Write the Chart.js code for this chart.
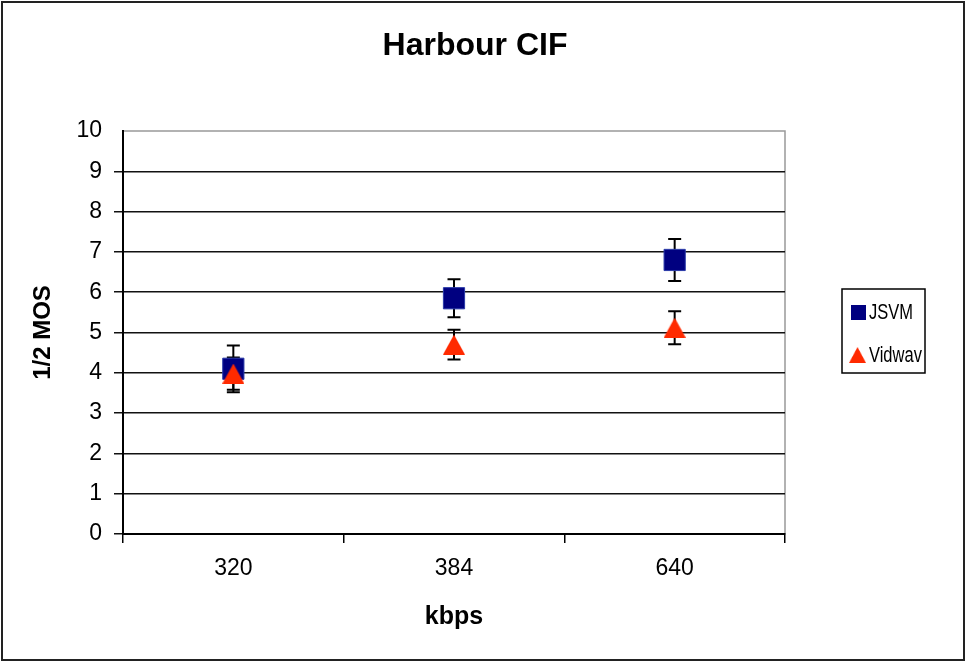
<!DOCTYPE html>
<html>
<head>
<meta charset="utf-8">
<script src="https://cdn.jsdelivr.net/npm/chart.js@4/dist/chart.umd.min.js"></script>
<style>
  html,body{margin:0;padding:0;background:#fff}
  #wrap{width:967px;height:664px}
</style>
</head>
<body>
<div id="wrap"><canvas id="c" width="967" height="664"></canvas></div>
<script>
'use strict';
// ─── Data ─────────────────────────────────────────────────────────────────────
const rates    = ['320', '384', '640'];
const jsvm     = [4.1, 5.85, 6.8];
const jsvmErr  = [0.58, 0.47, 0.52];
const vidwav   = [3.98, 4.7, 5.12];
const vidwavErr= [0.4, 0.37, 0.41];
const yTicks   = [0, 1, 2, 3, 4, 5, 6, 7, 8, 9, 10];

const FONT = 'Liberation Sans, Arial, sans-serif';
const NAVY = '#000080', RED = '#ff2a00';

// triangle marker as canvas so it sits centred on its value (like Excel)
const tri = (() => {
  const cv = document.createElement('canvas');
  cv.width = 22; cv.height = 20;
  const g = cv.getContext('2d');
  g.fillStyle = RED;
  g.beginPath(); g.moveTo(11, 0); g.lineTo(22, 20); g.lineTo(0, 20); g.closePath(); g.fill();
  return cv;
})();

// ─── Plugins ──────────────────────────────────────────────────────────────────
const frame = {
  id: 'frame',
  beforeDraw(chart) {
    const {ctx, chartArea: a} = chart;
    ctx.save();
    ctx.fillStyle = '#fff';
    ctx.fillRect(0, 0, chart.width, chart.height);
    ctx.strokeStyle = '#222'; ctx.lineWidth = 2;
    ctx.strokeRect(2, 2, 962, 658);
    ctx.strokeStyle = '#999'; ctx.lineWidth = 1.5;
    ctx.strokeRect(a.left, a.top, a.right - a.left, a.bottom - a.top);
    ctx.restore();
  },
  afterDraw(chart) {
    const {ctx} = chart;
    ctx.save();
    // title
    ctx.fillStyle = '#000';
    ctx.font = 'bold 32px ' + FONT;
    ctx.textAlign = 'center'; ctx.textBaseline = 'middle';
    ctx.fillText('Harbour CIF', 475, 46);
    // legend
    const lx = 842, ly = 289, lw = 83, lh = 84;
    ctx.fillStyle = '#fff'; ctx.fillRect(lx, ly, lw, lh);
    ctx.strokeStyle = '#000'; ctx.lineWidth = 1.5;
    ctx.strokeRect(lx, ly, lw, lh);
    ctx.font = '22px ' + FONT;
    ctx.textAlign = 'left';
    chart.data.datasets.forEach((ds, i) => {
      const cy = ly + 23 + i * 43;
      if (i === 0) { ctx.fillStyle = NAVY; ctx.fillRect(851, cy - 7, 15, 15); }
      else ctx.drawImage(tri, 849, cy - 8, 17, 16);
      ctx.fillStyle = '#000';
      ctx.save();
      ctx.translate(869, cy + 1);
      ctx.scale(0.75, 1);
      ctx.fillText(ds.label, 0, 0);
      ctx.restore();
    });
    ctx.restore();
  }
};

const errBars = {
  id: 'errBars',
  beforeDatasetsDraw(chart) {
    const {ctx} = chart;
    const ys = chart.scales.y;
    ctx.save();
    ctx.strokeStyle = '#000'; ctx.lineWidth = 2;
    chart.data.datasets.forEach((ds, i) => {
      chart.getDatasetMeta(i).data.forEach((pt, j) => {
        const v = ds.data[j], e = ds.err[j];
        const y1 = ys.getPixelForValue(v + e), y2 = ys.getPixelForValue(v - e);
        ctx.beginPath();
        ctx.moveTo(pt.x, y1); ctx.lineTo(pt.x, y2);
        ctx.moveTo(pt.x - 6.5, y1); ctx.lineTo(pt.x + 6.5, y1);
        ctx.moveTo(pt.x - 6.5, y2); ctx.lineTo(pt.x + 6.5, y2);
        ctx.stroke();
      });
    });
    ctx.restore();
  }
};

// ─── Chart ────────────────────────────────────────────────────────────────────
new Chart(document.getElementById('c').getContext('2d'), {
  type: 'line',
  data: {
    labels: rates,
    datasets: [
      {label: 'JSVM', data: jsvm, err: jsvmErr, showLine: false, order: 1,
       pointStyle: 'rect', pointRadius: 15, pointHoverRadius: 15,
       backgroundColor: NAVY, borderColor: '#2a3aa8', borderWidth: 1},
      {label: 'Vidwav', data: vidwav, err: vidwavErr, showLine: false, order: 0,
       pointStyle: tri, pointRadius: 10, pointHoverRadius: 10,
       backgroundColor: RED, borderColor: RED}
    ]
  },
  options: {
    responsive: false, animation: false,
    layout: {padding: {left: 0, top: 131, right: 182, bottom: 0}},
    plugins: {legend: {display: false}, title: {display: false}, tooltip: {enabled: false}},
    scales: {
      x: {
        offset: true,
        grid: {offset: true, drawOnChartArea: false, color: '#000', tickLength: 9, lineWidth: 1.5},
        border: {color: '#000', width: 2},
        ticks: {color: '#000', font: {family: FONT, size: 23}, padding: 12},
        title: {display: true, text: 'kbps', color: '#000', font: {family: FONT, size: 25, weight: 'bold'}, padding: {top: 0, bottom: 32}},
        afterFit: s => { s.height = 130; }
      },
      y: {
        min: 0, max: 10,
        afterBuildTicks: s => { s.ticks = yTicks.map(v => ({value: v})); },
        grid: {color: c => c.tick && c.tick.value === 10 ? 'rgba(0,0,0,0)' : '#111', lineWidth: 1.5, tickLength: 9},
        border: {color: '#000', width: 2},
        ticks: {color: '#000', font: {family: FONT, size: 23}, padding: 12},
        title: {display: true, text: '1/2 MOS', color: '#000', font: {family: FONT, size: 24, weight: 'bold'}, padding: {top: 29, bottom: 0}},
        afterFit: s => { s.width = 123; }
      }
    }
  },
  plugins: [frame, errBars]
});
</script>
</body>
</html>
